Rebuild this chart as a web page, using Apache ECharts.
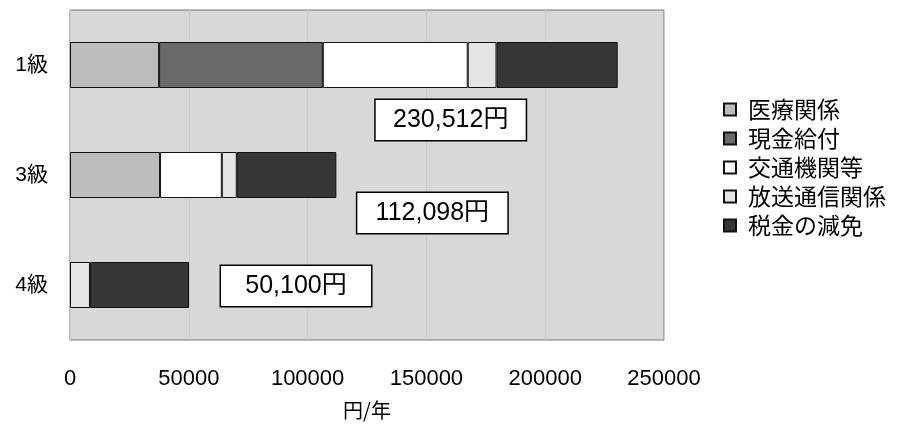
<!DOCTYPE html>
<html>
<head>
<meta charset="utf-8">
<script src="https://cdn.jsdelivr.net/npm/echarts@6/dist/echarts.min.js"></script>
<style>
  html, body { margin: 0; padding: 0; background: #fff; }
  #chart { width: 898px; height: 427px; }
</style>
</head>
<body>
<div id="chart"></div>
<script>
// 障害等級別の優遇措置（円/年）
const categories = ['1級', '3級', '4級'];
const seriesNames = ['医療関係', '現金給付', '交通機関等', '放送通信関係', '税金の減免'];
const iryo   = [37500, 37900, 0];
const genkin = [68900, 0, 0];
const kotsu  = [61000, 26000, 0];
const hoso   = [12100, 6300, 8400];
const zeikin = [51012, 41898, 41700];
const xTicks = [0, 50000, 100000, 150000, 200000, 250000];

const values = [iryo, genkin, kotsu, hoso, zeikin];
const colors = ['#bcbcbc', '#6a6a6a', '#ffffff', '#e4e4e4', '#363636'];
const totals = categories.map((_, i) => values.reduce((s, arr) => s + arr[i], 0));

// where each total box sits relative to the end of its bar
const totalLabelOffsets = [[-167, 55], [96, 38], [107, 1]];

const jpFont = '"Liberation Sans", "Noto Sans CJK JP", sans-serif';

const barSeries = seriesNames.map((name, k) => ({
  name: name,
  type: 'bar',
  stack: 'total',
  barWidth: 46,
  data: values[k].map(v => (v === 0 ? null : v)),
  itemStyle: { color: colors[k], borderColor: '#111', borderWidth: 1 },
  emphasis: { disabled: true }
}));

const totalSeries = {
  name: '合計',
  type: 'scatter',
  symbolSize: 0,
  silent: true,
  z: 10,
  itemStyle: { opacity: 1 },
  data: categories.map((c, i) => ({
    value: [totals[i], c],
    label: { offset: totalLabelOffsets[i] }
  })),
  label: {
    show: true,
    position: 'inside',
    formatter: p => p.value[0].toLocaleString('en-US') + '円',
    fontFamily: jpFont,
    fontSize: 25,
    color: '#000',
    backgroundColor: '#ffffff',
    borderColor: '#000',
    borderWidth: 1.5,
    width: 150,
    align: 'center',
    lineHeight: 30,
    padding: [5, 0]
  }
};

const chart = echarts.init(document.getElementById('chart'), null, { renderer: 'canvas' });
chart.setOption({
  animation: false,
  backgroundColor: '#ffffff',
  grid: {
    left: 70, right: 234, top: 10, bottom: 87,
    show: true,
    backgroundColor: '#d8d8d8',
    borderColor: '#777',
    borderWidth: 1
  },
  legend: {
    data: seriesNames,
    orient: 'vertical',
    left: 718,
    top: 93,
    itemWidth: 12,
    itemHeight: 12,
    itemGap: 6,
    icon: 'rect',
    selectedMode: false,
    textStyle: {
      fontFamily: '"Noto Sans CJK JP", sans-serif',
      fontSize: 23,
      lineHeight: 23,
      color: '#000',
      padding: [0, 0, 0, 7]
    }
  },
  xAxis: {
    type: 'value',
    min: xTicks[0],
    max: xTicks[xTicks.length - 1],
    interval: xTicks[1] - xTicks[0],
    name: '円/年',
    nameLocation: 'middle',
    nameGap: 60,
    nameTextStyle: { fontFamily: '"Noto Sans CJK JP", sans-serif', fontSize: 20, color: '#000' },
    axisLine: { show: false },
    axisTick: { show: false },
    axisLabel: {
      margin: 28,
      formatter: v => String(v),
      fontFamily: '"Liberation Sans", sans-serif',
      fontSize: 22,
      color: '#000'
    },
    splitLine: { show: true, lineStyle: { color: '#cbcbcb', width: 1 } }
  },
  yAxis: {
    type: 'category',
    data: categories,
    inverse: true,
    axisLine: { show: false },
    axisTick: { show: false },
    axisLabel: {
      margin: 22,
      fontFamily: jpFont,
      fontSize: 21,
      color: '#000'
    }
  },
  series: barSeries.concat([totalSeries])
});
</script>
</body>
</html>
